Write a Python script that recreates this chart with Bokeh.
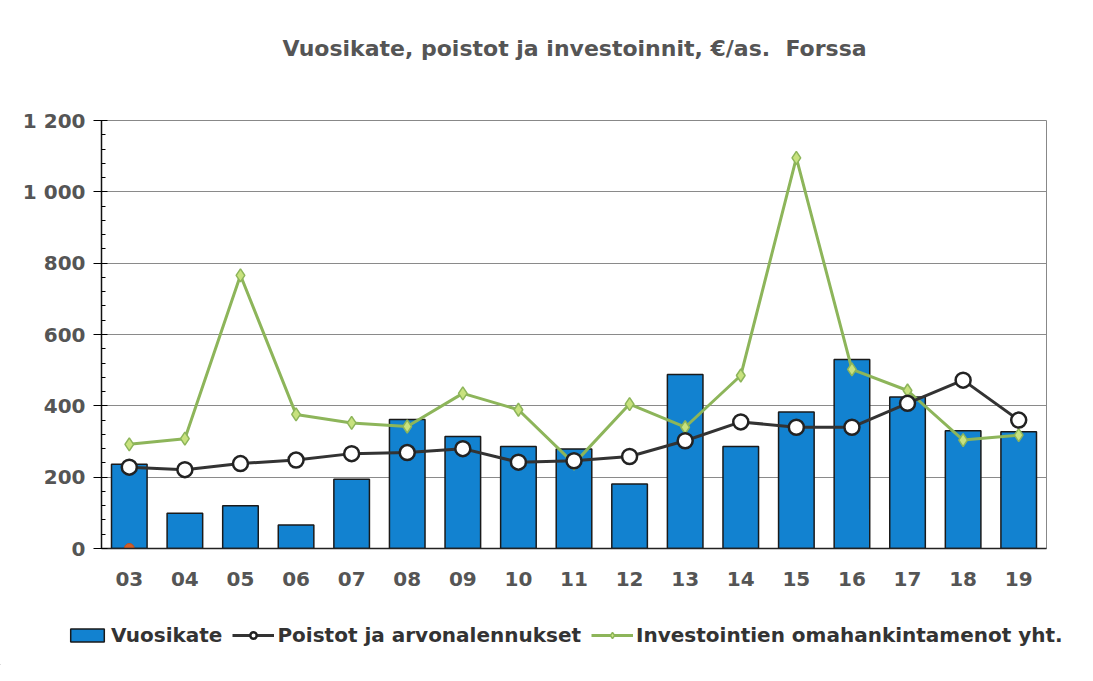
from bokeh.plotting import figure
from bokeh.models import (Range1d, Legend, LegendItem, ColumnDataSource, SingleIntervalTicker,
                          CustomJSTickFormatter, Label)
from bokeh.embed import file_html
from bokeh.resources import INLINE

years = ["03", "04", "05", "06", "07", "08", "09", "10", "11", "12", "13", "14", "15", "16", "17", "18", "19"]
vuosikate = [236, 99, 120, 66, 194, 362, 314, 286, 279, 181, 488, 286, 383, 530, 425, 330, 327]
poistot = [228, 221, 238, 248, 266, 269, 280, 242, 246, 258, 302, 355, 340, 340, 407, 472, 360]
investoinnit = [292, 308, 766, 376, 352, 342, 435, 389, 238, 405, 340, 485, 1095, 502, 443, 304, 318]
marker_years = ["03"]
marker_vals = [0]
title_text = "Vuosikate, poistot ja investoinnit, €/as.\u00a0 Forssa"
labels = ["Vuosikate", "Poistot ja arvonalennukset", "Investointien omahankintamenot yht."]

FONT = "DejaVu Sans"
W = 1075
BLUE, GREEN, GREEN_FILL = "#1282d0", "#8db55a", "#c8e27e"

src = ColumnDataSource(dict(x=years, v=vuosikate, p=poistot, i=investoinnit))

# --- title strip ---
TH = 80
t = figure(width=W, height=TH, x_range=Range1d(0, W), y_range=Range1d(0, TH),
           output_backend="svg", toolbar_location=None, title=None,
           x_axis_location=None, y_axis_location=None,
           min_border=0, outline_line_color=None)
t.grid.visible = False
t.add_layout(Label(x=574, y=TH - 48, text=title_text, text_align="center",
                   text_baseline="middle", text_font=FONT, text_font_size="22px",
                   text_font_style="bold", text_color="#555555"))

# --- main chart ---
p = figure(x_range=years, y_range=Range1d(0, 1200), title=None,
           frame_width=945, frame_height=428,
           output_backend="svg", toolbar_location=None,
           min_border_left=101, min_border_right=29, min_border_top=40, min_border_bottom=60)
p.x_range.range_padding = 0
p.outline_line_color = "#888888"

p.vbar(x="x", top="v", width=0.64, source=src, fill_color=BLUE,
       line_color="#1a1a1a", line_width=1.5)
p.line(x="x", y="i", source=src, line_color=GREEN, line_width=3)
p.scatter(x="x", y="i", source=src, marker="diamond", size=13,
          fill_color=GREEN_FILL, line_color=GREEN, line_width=1.5)
p.line(x="x", y="p", source=src, line_color="#333333", line_width=3)
p.scatter(x="x", y="p", source=src, marker="circle", size=15,
          fill_color="white", line_color="#222222", line_width=2.5)
p.scatter(x=marker_years, y=marker_vals, marker="circle", size=10,
          fill_color="#d0602a", line_color="#c05020")

p.yaxis.ticker = SingleIntervalTicker(interval=200, num_minor_ticks=5)
p.yaxis.formatter = CustomJSTickFormatter(code="return tick >= 1000 ? Math.floor(tick/1000) + ' ' + String(tick % 1000).padStart(3,'0') : String(tick);")
p.yaxis.major_label_text_font = FONT
p.yaxis.major_label_text_font_size = "20px"
p.yaxis.major_label_text_font_style = "bold"
p.yaxis.major_label_text_color = "#555555"
p.yaxis.axis_line_color = "#111111"
p.yaxis.axis_line_width = 1.5
p.yaxis.major_tick_in = 6
p.yaxis.major_tick_out = 8
p.yaxis.minor_tick_in = 4
p.yaxis.minor_tick_out = 0
p.yaxis.major_label_standoff = 8

p.xaxis.major_label_text_font = FONT
p.xaxis.major_label_text_font_size = "20px"
p.xaxis.major_label_text_font_style = "bold"
p.xaxis.major_label_text_color = "#555555"
p.xaxis.axis_line_color = "#222222"
p.xaxis.axis_line_width = 1.5
p.xaxis.major_tick_line_color = None
p.xaxis.major_label_standoff = 17

p.xgrid.grid_line_color = None
p.ygrid.grid_line_color = "#8a8a8a"
p.ygrid.grid_line_width = 1

# --- legend strip ---
LH = 57
lg = figure(width=W, height=LH, x_range=Range1d(0, 1), y_range=Range1d(0, 1),
            output_backend="svg", toolbar_location=None, title=None,
            x_axis_location=None, y_axis_location=None,
            min_border=0, outline_line_color=None)
lg.grid.visible = False
off = [-10, -9]
r1 = lg.vbar(x=off, top=off, width=0.5, fill_color=BLUE, line_color="#1a1a1a", line_width=1.5)
r2a = lg.line(x=off, y=off, line_color="#333333", line_width=3)
r2b = lg.scatter(x=off, y=off, marker="circle", size=15, fill_color="white",
                 line_color="#222222", line_width=2.5)
r3a = lg.line(x=off, y=off, line_color=GREEN, line_width=3)
r3b = lg.scatter(x=off, y=off, marker="diamond", size=13, fill_color=GREEN_FILL,
                 line_color=GREEN, line_width=1.5)
legend = Legend(items=[
    LegendItem(label=labels[0], renderers=[r1]),
    LegendItem(label=labels[1], renderers=[r2a, r2b]),
    LegendItem(label=labels[2], renderers=[r3a, r3b]),
], orientation="horizontal", location=(66, 18))
legend.label_text_font = FONT
legend.label_text_font_size = "20px"
legend.label_text_font_style = "bold"
legend.label_text_color = "#333333"
legend.glyph_width = 42
legend.glyph_height = 16
legend.label_standoff = 3
legend.spacing = 10
legend.border_line_color = None
legend.background_fill_alpha = 0
legend.padding = 0
legend.margin = 0
lg.add_layout(legend)

open("out.html", "w").write(file_html([t, p, lg], INLINE))
